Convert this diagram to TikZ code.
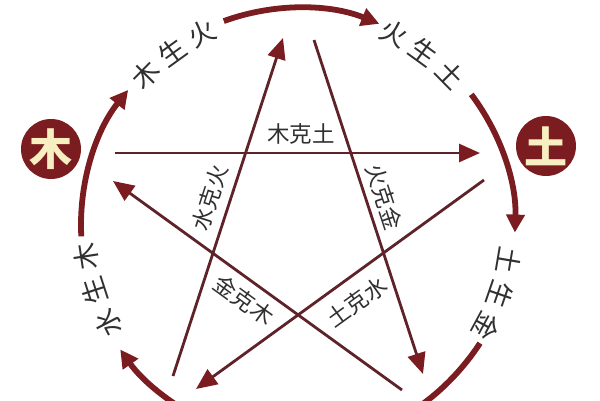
\documentclass[tikz,border=0pt]{standalone}
\usepackage{fontspec}
\newfontfamily\cjk{Noto Sans CJK SC}
\usetikzlibrary{arrows.meta,calc}
\definecolor{maroon}{HTML}{7B1C20}
\definecolor{starcol}{HTML}{5E2228}
\definecolor{cream}{HTML}{F7EEC2}
\definecolor{txt}{HTML}{303030}
\begin{document}
\begin{tikzpicture}[x=1pt,y=-1pt,
  arcline/.style={draw=maroon, line width=5.8pt, -{Triangle[length=18pt,width=18pt,color=maroon]}},
  starline/.style={draw=starcol, line width=2.8pt, -{Triangle[length=21pt,width=18pt,color=maroon]}},
  starlabel/.style={inner sep=0pt, text=txt, font=\cjk\fontsize{22.5}{22.5}\selectfont},
  arclabel/.style={inner sep=0pt, text=txt, font=\cjk\fontsize{27}{27}\selectfont},
  elem/.style={circle, fill=maroon, minimum size=60pt, inner sep=0pt, text=cream, font=\cjk\bfseries\fontsize{43}{43}\selectfont}]
\fill[white] (0,0) rectangle (600,400);
\useasboundingbox (0,0) rectangle (600,400);
\coordinate (C) at (298,225);
% outer cycle arcs
\draw[arcline] (C) ++(-183:217) coordinate (a1s) arc[start angle=-183, end angle=-141.5, radius=217] coordinate (a1e);
\draw[arcline] (C) ++(-110:217) coordinate (a2s) arc[start angle=-110, end angle=-68, radius=217] coordinate (a2e);
\draw[arcline] (C) ++(-37:217) coordinate (a3s) arc[start angle=-37, end angle=2, radius=217] coordinate (a3e);
\draw[arcline] (C) ++(33:217) coordinate (a4s) arc[start angle=33, end angle=66, radius=217] coordinate (a4e);
\draw[arcline] (C) ++(-245:217) coordinate (a5s) arc[start angle=-245, end angle=-215, radius=217] coordinate (a5e);
% cycle labels
\foreach \ch/\ang [count=\i] in {木/135.4,生/126,火/116.6,火/63.4,生/54,土/44.6,土/-9.6,生/-19,金/-28.4,水/207.4,生/198,木/188.6}
  \node[arclabel, rotate={\ang-90}] (c\i) at ($(C)+({-1*(\ang)}:214)$) {\ch};
% star end points
\coordinate (s1a) at (115,153); \coordinate (s1b) at (480,153);
\coordinate (s2a) at (173,376); \coordinate (s2b) at (283,38);
\coordinate (s3a) at (314,40);  \coordinate (s3b) at (423,374);
\coordinate (s4a) at (402,390); \coordinate (s4b) at (113,181);
\coordinate (s5a) at (484,180); \coordinate (s5b) at (196,389);
\draw[starline] (s1a) -- (s1b);
\draw[starline] (s2a) -- (s2b);
\draw[starline] (s3a) -- (s3b);
\draw[starline] (s4a) -- (s4b);
\draw[starline] (s5a) -- (s5b);
% star labels
\node[starlabel] (k1) at (301,134) {木克土};
\node[starlabel, rotate=72] (k2) at (210,198) {水克火};
\node[starlabel, rotate=-72] (k3) at (384,197) {火克金};
\node[starlabel, rotate=-36] (k4) at (244,300) {金克木};
\node[starlabel, rotate=36] (k5) at (357,302) {土克水};
% element circles
\node[elem] (mu) at (51,149) {木};
\node[elem] (tu) at (546,146) {土};
\end{tikzpicture}
\end{document}
